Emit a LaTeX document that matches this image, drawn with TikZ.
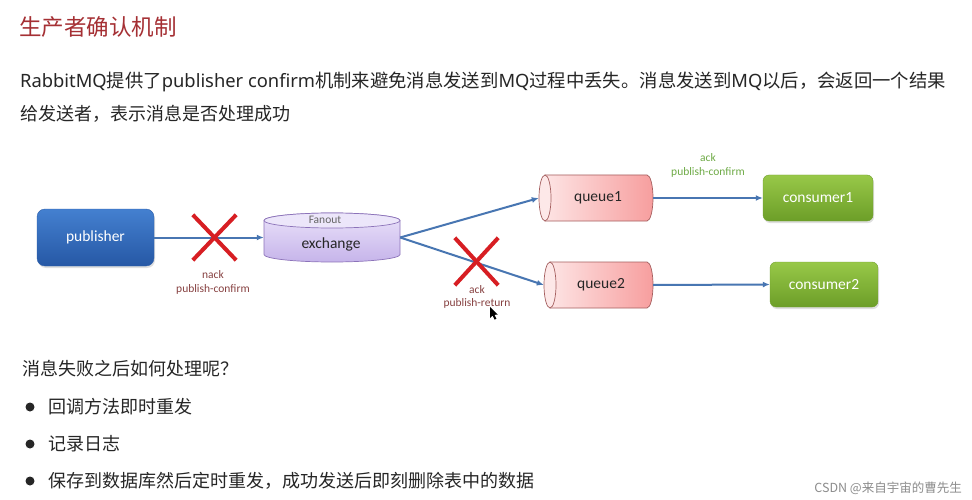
\documentclass[tikz,border=0pt]{standalone}
\usepackage{fontspec}
\setmainfont{Noto Sans CJK SC}
\newfontfamily\diag{Carlito}
\newfontfamily\lat{Noto Sans}
\usetikzlibrary{arrows.meta,shadows}
\definecolor{titlered}{RGB}{165,48,52}
\definecolor{txt}{RGB}{38,38,38}
\definecolor{flowblue}{RGB}{72,118,178}
\definecolor{xred}{RGB}{215,30,35}
\definecolor{lblred}{RGB}{135,65,65}
\definecolor{lblgreen}{RGB}{110,170,70}
\definecolor{exborder}{RGB}{140,115,185}
\definecolor{qborder}{RGB}{165,95,95}
\begin{document}
\begin{tikzpicture}[x=1pt,y=-1pt,
  bodytext/.style={anchor=west,inner sep=0pt,text=txt,font=\fontsize{18}{22}\selectfont},
  flow/.style={draw=flowblue,line width=2pt,-{Latex[length=7pt,width=6pt]}},
  pubbox/.style={rounded corners=8pt,minimum width=117pt,minimum height=57pt,inner sep=0pt,
    top color={rgb,255:red,68;green,128;blue,208},bottom color={rgb,255:red,38;green,88;blue,165},
    draw={rgb,255:red,45;green,95;blue,170},text=white,font=\diag\fontsize{15.5}{18}\selectfont,
    drop shadow={opacity=0.25,shadow xshift=1pt,shadow yshift=-2pt}},
  consbox/.style={rounded corners=6pt,inner sep=0pt,
    top color={rgb,255:red,152;green,200;blue,72},bottom color={rgb,255:red,108;green,158;blue,40},
    draw={rgb,255:red,115;green,160;blue,50},text=white,font=\diag\fontsize{15.5}{18}\selectfont,
    drop shadow={opacity=0.25,shadow xshift=1pt,shadow yshift=-2pt}},
  holder/.style={inner sep=0pt,text=txt,font=\diag\fontsize{15.5}{18}\selectfont},
  xmark/.style={inner sep=0pt},
  xline/.style={draw=xred,line width=4pt},
  small/.style={inner sep=0pt,font=\diag\fontsize{11.5}{13}\selectfont},
  bullet/.style={circle,fill=black!85,minimum size=9pt,inner sep=0pt}
]
\useasboundingbox[fill=white] (0,0) rectangle (972,500);

% texts at top
\node[anchor=west,inner sep=0pt,text=titlered,font=\fontsize{22.5}{26}\selectfont] (title) at (19,27) {生产者确认机制};
\node[bodytext,font=\fontsize{18.35}{22}\selectfont] (l1) at (20,82) {{\lat RabbitMQ}提供了{\lat publisher confirm}机制来避免消息发送到{\lat MQ}过程中丢失。消息发送到{\lat MQ}以后，会返回一个结果};
\node[bodytext] (l2) at (20,114) {给发送者，表示消息是否处理成功};

% publisher
\node[pubbox] (pub) at (95.5,237.5) {publisher};

% exchange cylinder (upright)
\node[holder,minimum width=136pt,minimum height=49pt] (ex) at (332,237.5) {};
\path[top color={rgb,255:red,234;green,226;blue,250},bottom color={rgb,255:red,198;green,180;blue,234},draw=exborder,line width=0.7pt]
  (264,220.5) -- (264,254.5) arc[start angle=180,end angle=0,x radius=68,y radius=7.5]
  -- (400,220.5) arc[start angle=0,end angle=-180,x radius=68,y radius=7.5] -- cycle;
\draw[fill={rgb,255:red,236;green,230;blue,250},draw=exborder,line width=0.7pt] (332,220.5) ellipse[x radius=68,y radius=7.5];
\node[small,text=black!60] (fan) at (325,220) {Fanout};
\node[holder,font=\diag\fontsize{15.5}{18}\selectfont] (exl) at (331,244) {exchange};

% queues (horizontal cylinders)
\node[holder,minimum width=114pt,minimum height=46pt] (q1) at (596,198) {};
\path[left color={rgb,255:red,253;green,228;blue,228},right color={rgb,255:red,247;green,158;blue,158},draw=qborder,line width=0.7pt]
  (545,175) -- (647,175) arc[start angle=270,end angle=450,x radius=6,y radius=23] -- (545,221) -- cycle;
\draw[fill={rgb,255:red,253;green,232;blue,232},draw=qborder,line width=0.7pt] (545,198) ellipse[x radius=6,y radius=23];
\node[holder] (q1l) at (598,198) {queue1};

\node[holder,minimum width=109pt,minimum height=46pt] (q2) at (598.5,285) {};
\path[left color={rgb,255:red,253;green,228;blue,228},right color={rgb,255:red,247;green,158;blue,158},draw=qborder,line width=0.7pt]
  (550,262) -- (647,262) arc[start angle=270,end angle=450,x radius=6,y radius=23] -- (550,308) -- cycle;
\draw[fill={rgb,255:red,253;green,232;blue,232},draw=qborder,line width=0.7pt] (550,285) ellipse[x radius=6,y radius=23];
\node[holder] (q2l) at (601,285) {queue2};

% consumers
\node[consbox,minimum width=110pt,minimum height=46pt] (c1) at (818,198) {consumer1};
\node[consbox,minimum width=108pt,minimum height=45pt] (c2) at (824,284.5) {consumer2};

% connectors
\draw[flow] (pub.east) -- (ex.west);
\draw[flow] (ex.east) -- (q1.west);
\draw[flow] (ex.east) -- (q2.west);
\draw[flow] (q1.east) -- (c1.west);
\draw[flow] (q2.east) -- (c2.west);

% red crosses
\node[xmark,minimum width=43pt,minimum height=45pt] (x1) at (214.5,237.5) {};
\draw[xline] (x1.north west) -- (x1.south east);
\draw[xline] (x1.north east) -- (x1.south west);
\node[xmark,minimum width=43pt,minimum height=47pt] (x2) at (476.5,261.5) {};
\draw[xline] (x2.north west) -- (x2.south east);
\draw[xline] (x2.north east) -- (x2.south west);

% labels
\node[small,text=lblred] (n1) at (213,275) {nack};
\node[small,text=lblred] (n2) at (213,289) {publish-confirm};
\node[small,text=lblred] (a1) at (477,290) {ack};
\node[small,text=lblred] (a2) at (477,303) {publish-return};
\node[small,text=lblgreen] (g1) at (708,158) {ack};
\node[small,text=lblgreen] (g2) at (708,172) {publish-confirm};

% mouse cursor
\fill[black] (490,307) -- (490,318) -- (492.6,315.6) -- (494.6,319.6) -- (496.4,318.8) -- (494.4,314.8) -- (497.8,314.6) -- cycle;

% bottom texts
\node[bodytext] (qq) at (22,369) {消息失败之后如何处理呢？};
\node[bullet] (b1) at (30,407) {};
\node[bodytext] (t1) at (48,407) {回调方法即时重发};
\node[bullet] (b2) at (30,444) {};
\node[bodytext] (t2) at (48,444) {记录日志};
\node[bullet] (b3) at (30,481) {};
\node[bodytext] (t3) at (48,481) {保存到数据库然后定时重发，成功发送后即刻删除表中的数据};

% watermark
\node[anchor=east,inner sep=0pt,text=black!45,font=\fontsize{12.5}{14}\selectfont] (wm) at (962,488) {CSDN @来自宇宙的曹先生};
\end{tikzpicture}
\end{document}
